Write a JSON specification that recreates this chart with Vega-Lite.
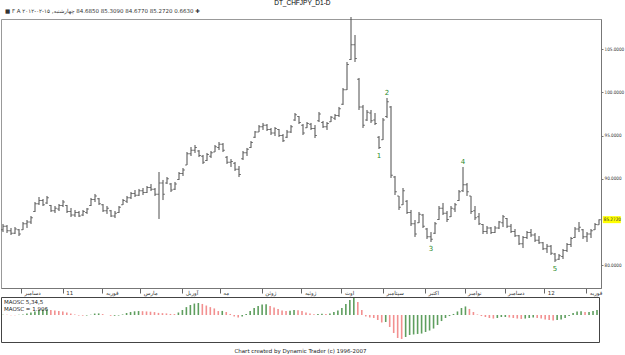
{
"$schema": "https://vega.github.io/schema/vega-lite/v6.json",
"padding": 0,
"background": "white",
"title": {"text": "DT_CHFJPY_D1-D", "fontSize": 6.5, "fontWeight": "normal", "font": "Liberation Sans", "anchor": "middle", "offset": 2, "dx": -10, "color": "#000"},
"config": {"view": {"stroke": null}, "concat": {"spacing": 0}, "axis": {"grid": false}},
"datasets": {
"bars": [
{"d":1,"o":84.1,"h":84.77,"l":83.84,"c":84.5,"m":0.1},
{"d":2,"o":84.5,"h":84.65,"l":83.73,"c":84.0,"m":0.05},
{"d":3,"o":84.0,"h":84.31,"l":83.5,"c":83.7,"m":-0.05},
{"d":4,"o":83.7,"h":84.42,"l":83.61,"c":84.2,"m":-0.1},
{"d":5,"o":84.1,"h":84.19,"l":83.38,"c":83.6,"m":0.05},
{"d":6,"o":84.1,"h":85.0,"l":84.08,"c":84.8,"m":0.2},
{"d":7,"o":84.8,"h":85.23,"l":84.31,"c":85.0,"m":0.57},
{"d":8,"o":85.0,"h":85.69,"l":84.77,"c":85.5,"m":0.95},
{"d":9,"o":86.2,"h":87.31,"l":86.16,"c":87.1,"m":1.33},
{"d":10,"o":87.1,"h":87.89,"l":86.97,"c":87.5,"m":1.9},
{"d":11,"o":87.5,"h":87.66,"l":86.85,"c":87.0,"m":2.09},
{"d":12,"o":87.2,"h":88.01,"l":87.08,"c":87.8,"m":2.1},
{"d":13,"o":86.9,"h":86.97,"l":86.16,"c":86.3,"m":1.9},
{"d":14,"o":86.3,"h":86.85,"l":86.04,"c":86.6,"m":1.7},
{"d":15,"o":86.5,"h":87.08,"l":86.27,"c":86.9,"m":1.5},
{"d":16,"o":86.9,"h":87.54,"l":86.73,"c":87.3,"m":1.35},
{"d":17,"o":86.9,"h":86.97,"l":86.04,"c":86.2,"m":0.95},
{"d":18,"o":86.2,"h":86.62,"l":85.58,"c":85.8,"m":0.55},
{"d":19,"o":85.8,"h":86.39,"l":85.58,"c":86.1,"m":0.2},
{"d":20,"o":86.1,"h":86.27,"l":85.58,"c":85.7,"m":-0.2},
{"d":21,"o":85.8,"h":86.39,"l":85.69,"c":86.2,"m":-0.25},
{"d":22,"o":86.1,"h":86.62,"l":85.93,"c":86.5,"m":-0.2},
{"d":23,"o":86.9,"h":87.78,"l":86.85,"c":87.6,"m":0.1},
{"d":24,"o":87.6,"h":88.24,"l":87.31,"c":88.0,"m":0.55},
{"d":25,"o":87.7,"h":87.78,"l":86.97,"c":87.1,"m":0.6},
{"d":26,"o":87.0,"h":87.08,"l":86.16,"c":86.3,"m":0.35},
{"d":27,"o":86.3,"h":86.85,"l":85.93,"c":86.6,"m":0},
{"d":28,"o":86.3,"h":86.39,"l":85.58,"c":85.7,"m":-0.3},
{"d":29,"o":85.7,"h":86.27,"l":85.46,"c":86.0,"m":-0.3},
{"d":30,"o":86.1,"h":86.85,"l":86.04,"c":86.7,"m":-0.2},
{"d":31,"o":87.0,"h":87.66,"l":86.97,"c":87.5,"m":0.2},
{"d":32,"o":87.4,"h":88.01,"l":87.2,"c":87.8,"m":0.75},
{"d":33,"o":87.8,"h":88.47,"l":87.66,"c":88.3,"m":1.15},
{"d":34,"o":88.3,"h":88.7,"l":87.89,"c":88.1,"m":1.4},
{"d":35,"o":88.1,"h":88.82,"l":88.01,"c":88.6,"m":1.5},
{"d":36,"o":88.6,"h":88.93,"l":88.12,"c":88.4,"m":1.45},
{"d":37,"o":88.4,"h":89.16,"l":88.35,"c":89.0,"m":1.35},
{"d":38,"o":89.0,"h":89.39,"l":88.58,"c":88.8,"m":1.25},
{"d":39,"o":88.8,"h":88.93,"l":88.01,"c":88.2,"m":1.1},
{"d":40,"o":88.2,"h":90.78,"l":85.35,"c":89.5,"m":0.8},
{"d":41,"o":89.5,"h":89.86,"l":87.54,"c":88.2,"m":0.7},
{"d":42,"o":89.5,"h":90.2,"l":89.39,"c":90.0,"m":0.6},
{"d":43,"o":89.4,"h":89.51,"l":88.47,"c":88.7,"m":0.4},
{"d":44,"o":88.8,"h":89.63,"l":88.7,"c":89.4,"m":0.35},
{"d":45,"o":89.9,"h":90.78,"l":89.86,"c":90.6,"m":0.95},
{"d":46,"o":90.6,"h":91.24,"l":90.32,"c":91.0,"m":1.9},
{"d":47,"o":91.6,"h":93.09,"l":91.59,"c":92.9,"m":3.0},
{"d":48,"o":92.9,"h":93.67,"l":92.63,"c":93.3,"m":3.8},
{"d":49,"o":93.3,"h":93.9,"l":92.98,"c":93.6,"m":4.35},
{"d":50,"o":93.2,"h":93.32,"l":92.51,"c":92.7,"m":4.55},
{"d":51,"o":92.6,"h":92.75,"l":91.71,"c":91.9,"m":4.2},
{"d":52,"o":92.1,"h":92.98,"l":92.05,"c":92.8,"m":3.6},
{"d":53,"o":92.6,"h":93.21,"l":92.4,"c":93.0,"m":3.0},
{"d":54,"o":93.1,"h":93.9,"l":93.09,"c":93.7,"m":2.5},
{"d":55,"o":93.6,"h":94.25,"l":93.32,"c":94.0,"m":1.5},
{"d":56,"o":94.0,"h":94.13,"l":93.09,"c":93.3,"m":1.55},
{"d":57,"o":92.5,"h":92.63,"l":91.71,"c":91.9,"m":1.15},
{"d":58,"o":91.9,"h":92.28,"l":91.36,"c":92.0,"m":0.4},
{"d":59,"o":91.8,"h":91.94,"l":90.9,"c":91.1,"m":-0.55},
{"d":60,"o":91.1,"h":91.47,"l":90.2,"c":90.5,"m":-0.95},
{"d":61,"o":92.3,"h":93.21,"l":92.17,"c":93.0,"m":-0.6},
{"d":62,"o":93.0,"h":93.56,"l":92.63,"c":93.4,"m":0.4},
{"d":63,"o":93.6,"h":94.36,"l":93.56,"c":94.2,"m":1.5},
{"d":64,"o":94.8,"h":95.52,"l":94.71,"c":95.4,"m":2.65},
{"d":65,"o":95.4,"h":96.21,"l":95.4,"c":96.0,"m":3.4},
{"d":66,"o":96.0,"h":96.45,"l":95.64,"c":96.2,"m":4.0},
{"d":67,"o":96.2,"h":96.33,"l":95.52,"c":95.7,"m":4.05},
{"d":68,"o":95.7,"h":95.87,"l":95.06,"c":95.3,"m":3.4},
{"d":69,"o":95.3,"h":95.98,"l":94.94,"c":95.8,"m":2.85},
{"d":70,"o":95.7,"h":95.75,"l":94.83,"c":95.0,"m":2.3},
{"d":71,"o":95.0,"h":95.17,"l":94.25,"c":94.4,"m":1.7},
{"d":72,"o":94.8,"h":95.64,"l":94.71,"c":95.4,"m":1.5},
{"d":73,"o":95.4,"h":96.21,"l":95.29,"c":96.0,"m":1.65},
{"d":74,"o":96.8,"h":97.6,"l":96.68,"c":97.4,"m":1.9},
{"d":75,"o":97.2,"h":97.25,"l":96.33,"c":96.5,"m":1.85},
{"d":76,"o":96.2,"h":96.33,"l":95.06,"c":95.3,"m":1.5},
{"d":77,"o":95.9,"h":96.56,"l":95.87,"c":96.4,"m":0.95},
{"d":78,"o":96.3,"h":96.45,"l":95.64,"c":95.8,"m":0.55},
{"d":79,"o":95.8,"h":96.21,"l":94.71,"c":95.0,"m":0.3},
{"d":80,"o":96.7,"h":97.72,"l":96.56,"c":97.5,"m":0.4},
{"d":81,"o":96.5,"h":96.68,"l":95.87,"c":96.0,"m":0.45},
{"d":82,"o":96.0,"h":96.56,"l":95.64,"c":96.4,"m":0.4},
{"d":83,"o":96.6,"h":97.25,"l":96.56,"c":97.1,"m":0.55},
{"d":84,"o":97.0,"h":97.49,"l":96.79,"c":97.3,"m":1.15},
{"d":85,"o":97.3,"h":98.3,"l":97.14,"c":98.1,"m":1.7},
{"d":86,"o":98.6,"h":100.49,"l":98.53,"c":100.3,"m":2.65},
{"d":87,"o":100.3,"h":103.5,"l":100.26,"c":103.2,"m":4.2},
{"d":88,"o":103.8,"h":108.7,"l":103.73,"c":105.5,"m":5.7},
{"d":89,"o":105.5,"h":106.62,"l":103.5,"c":103.9,"m":6.45},
{"d":90,"o":101.5,"h":101.65,"l":97.95,"c":98.3,"m":4.95},
{"d":91,"o":98.3,"h":98.53,"l":95.87,"c":96.2,"m":1.9},
{"d":92,"o":96.8,"h":97.95,"l":96.68,"c":97.7,"m":-0.55},
{"d":93,"o":97.6,"h":97.95,"l":96.45,"c":96.7,"m":-0.95},
{"d":94,"o":96.8,"h":97.6,"l":96.21,"c":96.4,"m":-1.15},
{"d":95,"o":94.8,"h":94.94,"l":93.44,"c":93.6,"m":-1.9},
{"d":96,"o":94.5,"h":97.02,"l":94.48,"c":96.8,"m":-2.85},
{"d":97,"o":97.2,"h":99.34,"l":97.02,"c":98.9,"m":-2.65},
{"d":98,"o":98.3,"h":98.41,"l":90.09,"c":90.4,"m":-4.55},
{"d":99,"o":90.2,"h":90.32,"l":88.12,"c":88.5,"m":-6.85},
{"d":100,"o":88.0,"h":88.01,"l":86.39,"c":86.7,"m":-8.75},
{"d":101,"o":87.0,"h":88.93,"l":86.97,"c":88.6,"m":-9.1},
{"d":102,"o":87.4,"h":87.54,"l":85.93,"c":86.1,"m":-8.35},
{"d":103,"o":86.1,"h":86.39,"l":84.54,"c":84.8,"m":-7.6},
{"d":104,"o":84.8,"h":85.23,"l":83.27,"c":83.6,"m":-7.4},
{"d":105,"o":84.9,"h":86.16,"l":84.88,"c":85.9,"m":-7.2},
{"d":106,"o":85.8,"h":85.93,"l":84.31,"c":84.5,"m":-7.05},
{"d":107,"o":84.2,"h":84.31,"l":83.04,"c":83.3,"m":-6.45},
{"d":108,"o":83.3,"h":83.84,"l":82.69,"c":83.0,"m":-5.9},
{"d":109,"o":83.7,"h":85.0,"l":83.61,"c":84.8,"m":-5.15},
{"d":110,"o":85.3,"h":86.85,"l":85.23,"c":86.6,"m":-3.8},
{"d":111,"o":86.6,"h":87.2,"l":85.81,"c":86.0,"m":-2.3},
{"d":112,"o":86.0,"h":86.27,"l":85.0,"c":85.3,"m":-1.15},
{"d":113,"o":85.6,"h":86.85,"l":85.58,"c":86.6,"m":-0.4},
{"d":114,"o":86.5,"h":87.2,"l":86.16,"c":87.0,"m":0.4},
{"d":115,"o":87.5,"h":88.7,"l":87.43,"c":88.5,"m":1.35},
{"d":116,"o":88.6,"h":91.36,"l":88.47,"c":89.3,"m":2.65},
{"d":117,"o":89.3,"h":89.51,"l":88.01,"c":88.5,"m":3.25},
{"d":118,"o":88.0,"h":88.01,"l":85.93,"c":86.2,"m":2.3},
{"d":119,"o":86.3,"h":86.85,"l":85.23,"c":85.5,"m":1.15},
{"d":120,"o":85.6,"h":86.04,"l":84.65,"c":84.8,"m":0.2},
{"d":121,"o":84.7,"h":84.77,"l":83.61,"c":83.9,"m":-0.4},
{"d":122,"o":83.9,"h":84.54,"l":83.61,"c":84.3,"m":-0.75},
{"d":123,"o":84.3,"h":84.42,"l":83.61,"c":83.8,"m":-1.15},
{"d":124,"o":83.8,"h":84.54,"l":83.73,"c":84.3,"m":-1.35},
{"d":125,"o":84.3,"h":85.12,"l":84.19,"c":85.0,"m":-1.15},
{"d":126,"o":84.9,"h":85.81,"l":84.42,"c":85.6,"m":-0.75},
{"d":127,"o":85.4,"h":85.46,"l":84.31,"c":84.5,"m":-0.75},
{"d":128,"o":84.5,"h":84.77,"l":83.73,"c":83.9,"m":-0.95},
{"d":129,"o":83.9,"h":84.19,"l":83.27,"c":83.4,"m":-1.15},
{"d":130,"o":83.4,"h":83.5,"l":82.34,"c":82.5,"m":-1.35},
{"d":131,"o":82.5,"h":83.38,"l":81.99,"c":83.2,"m":-1.5},
{"d":132,"o":83.2,"h":83.96,"l":83.04,"c":83.8,"m":-1.35},
{"d":133,"o":83.8,"h":84.19,"l":83.27,"c":83.5,"m":-1.15},
{"d":134,"o":83.5,"h":83.73,"l":82.69,"c":82.9,"m":-0.95},
{"d":135,"o":82.9,"h":83.38,"l":82.46,"c":82.6,"m":-1.15},
{"d":136,"o":82.6,"h":82.69,"l":81.76,"c":81.9,"m":-1.35},
{"d":137,"o":81.9,"h":82.46,"l":81.42,"c":82.2,"m":-1.7},
{"d":138,"o":82.2,"h":82.34,"l":81.19,"c":81.4,"m":-1.9},
{"d":139,"o":81.3,"h":81.42,"l":80.38,"c":80.6,"m":-2.1},
{"d":140,"o":80.7,"h":81.3,"l":80.61,"c":81.1,"m":-1.9},
{"d":141,"o":81.0,"h":81.88,"l":80.72,"c":81.7,"m":-1.7},
{"d":142,"o":81.7,"h":82.57,"l":81.53,"c":82.4,"m":-1.15},
{"d":143,"o":82.4,"h":83.27,"l":82.11,"c":83.1,"m":-0.4},
{"d":144,"o":83.2,"h":84.42,"l":83.15,"c":84.2,"m":0.75},
{"d":145,"o":84.2,"h":85.0,"l":83.84,"c":84.4,"m":1.35},
{"d":146,"o":84.1,"h":84.19,"l":83.04,"c":83.3,"m":1.4},
{"d":147,"o":83.3,"h":83.84,"l":82.69,"c":83.6,"m":1.15},
{"d":148,"o":83.6,"h":84.19,"l":83.15,"c":84.0,"m":1.15},
{"d":149,"o":84.1,"h":84.88,"l":84.08,"c":84.7,"m":1.5},
{"d":150,"o":84.685,"h":85.309,"l":84.677,"c":85.272,"m":1.906}
],
"waves": [
{"d":95,"p":93.44,"t":"1","k":"low"},
{"d":97,"p":99.34,"t":"2","k":"high"},
{"d":108,"p":82.69,"t":"3","k":"low"},
{"d":116,"p":91.36,"t":"4","k":"high"},
{"d":139,"p":80.38,"t":"5","k":"low"}
]
},
"vconcat": [
{
"width": 600,
"height": 269,
"view": {"stroke": "#999", "strokeWidth": 1},
"title": {"text": "■ F A   ۲۰۱۲-۰۲-۱۵ ,چهارشنبه‎   84.6850   85.3090   84.6770   85.2720   0.6630   ✚", "anchor": "start", "fontSize": 5.5, "fontWeight": "normal", "font": "DejaVu Sans", "offset": 2, "dx": 4, "color": "#333"},
"data": {"name": "bars"},
"encoding": {
"x": {"field": "d", "type": "quantitative", "scale": {"domain": [0.5, 150.5], "nice": false, "zero": false},
"axis": {"title": null, "values": [5.47,15.92,25.87,35.3,45.8,55.2,65.7,75.6,85.6,96,106.5,116.4,126.4,136.3,146.8],
"labelExpr": "['دسامبر','11','فوریه','مارس','آوریل','مه','ژوئن','ژوئیه','اوت','سپتامبر','اکتبر','نوامبر','دسامبر','12','فوریه'][indexof([5.47,15.92,25.87,35.3,45.8,55.2,65.7,75.6,85.6,96,106.5,116.4,126.4,136.3,146.8], datum.value)]",
"tickSize": 5, "tickColor": "#666", "domainColor": "#777", "labelAlign": "left", "labelBaseline": "top", "labelPadding": -3, "labelOffset": 3, "labelFontSize": 5.5, "labelFont": "DejaVu Sans", "labelColor": "#333", "labelOverlap": false, "labelFlush": false}},
"y": {"field": "l", "type": "quantitative", "scale": {"domain": [77.37, 108.47], "nice": false, "zero": false},
"axis": {"title": null, "orient": "right", "values": [80, 90, 95, 100, 105], "format": ".4f", "tickSize": 2, "tickColor": "#777", "domainColor": "#777", "labelFontSize": 4.6, "labelFont": "DejaVu Sans Condensed", "labelColor": "#333", "labelPadding": 1}}
},
"layer": [
{"mark": {"type": "rule", "color": "#4d4d4d", "strokeWidth": 1}, "encoding": {"y2": {"field": "h"}}},
{"mark": {"type": "tick", "orient": "horizontal", "color": "#4d4d4d", "size": 2, "thickness": 1, "xOffset": -1}, "encoding": {"y": {"field": "o", "type": "quantitative"}}},
{"mark": {"type": "tick", "orient": "horizontal", "color": "#4d4d4d", "size": 2, "thickness": 1, "xOffset": 1}, "encoding": {"y": {"field": "c", "type": "quantitative"}}},
{"data": {"name": "waves"}, "transform": [{"filter": "datum.k == 'low'"}], "mark": {"type": "text", "color": "#2a8a2a", "fontSize": 7, "font": "DejaVu Sans", "baseline": "top", "dy": 3}, "encoding": {"y": {"field": "p", "type": "quantitative"}, "text": {"field": "t"}}},
{"data": {"name": "waves"}, "transform": [{"filter": "datum.k == 'high'"}], "mark": {"type": "text", "color": "#2a8a2a", "fontSize": 7, "font": "DejaVu Sans", "baseline": "bottom", "dy": -2}, "encoding": {"y": {"field": "p", "type": "quantitative"}, "text": {"field": "t"}}},
{"transform": [{"filter": "datum.d == 150"}], "mark": {"type": "rect", "color": "#ffff00", "width": 18, "height": 7}, "encoding": {"x": {"datum": 153.2}, "y": {"field": "c", "type": "quantitative"}}},
{"transform": [{"filter": "datum.d == 150"}], "mark": {"type": "text", "align": "left", "baseline": "middle", "fontSize": 4.6, "font": "DejaVu Sans Condensed", "color": "#333"}, "encoding": {"x": {"datum": 151.2}, "y": {"field": "c", "type": "quantitative"}, "text": {"field": "c", "format": ".4f"}}}
]
},
{
"width": 598,
"height": 45,
"view": {"stroke": "#444", "strokeWidth": 1},
"title": {"text": ["MAOSC 5,34,5", "MAOSC = 1.906"], "anchor": "start", "offset": -15, "fontSize": 5.5, "lineHeight": 6.5, "fontWeight": "normal", "font": "DejaVu Sans", "dx": 3, "color": "#222"},
"data": {"name": "bars"},
"transform": [{"window": [{"op": "lag", "field": "m", "as": "pm"}], "sort": [{"field": "d"}]}],
"mark": {"type": "rule", "strokeWidth": 1.6},
"encoding": {
"x": {"field": "d", "type": "quantitative", "scale": {"domain": [0.5, 150.5], "nice": false, "zero": false},
"axis": {"labels": false, "ticks": false, "domain": false, "title": "Chart created by Dynamic Trader  (c) 1996-2007", "titleFontSize": 5.5, "titleFont": "DejaVu Sans", "titleFontWeight": "normal", "titlePadding": 6, "titleColor": "#222"}},
"y": {"field": "m", "type": "quantitative", "scale": {"domain": [-10.26, 6.84], "nice": false, "zero": false}, "axis": null},
"y2": {"datum": 0},
"color": {"condition": {"test": "datum.pm == null || datum.m >= datum.pm", "value": "#5e9e5e"}, "value": "#f29090"}
}
}
]
}
